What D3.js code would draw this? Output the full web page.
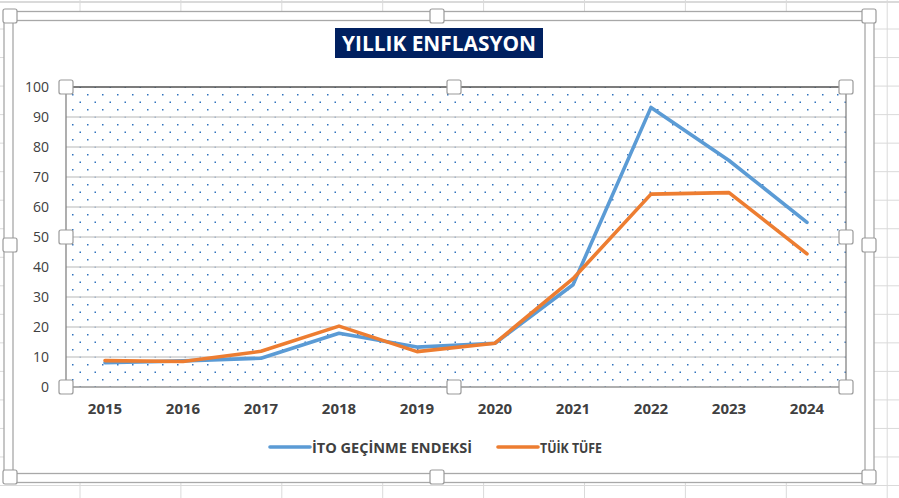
<!DOCTYPE html>
<html><head><meta charset="utf-8">
<script src="https://cdn.jsdelivr.net/npm/d3@7"></script>
<style>html,body{margin:0;padding:0;background:#fff;}svg{display:block;}</style>
</head><body>
<svg id="c" width="899" height="498"></svg>
<script>
const years = ["2015","2016","2017","2018","2019","2020","2021","2022","2023","2024"];
const itoValues = [8.1, 8.7, 9.6, 17.9, 13.3, 14.6, 34.1, 93.2, 75.5, 54.9];
const tuikValues = [8.8, 8.5, 11.9, 20.3, 11.8, 14.6, 36.1, 64.3, 64.8, 44.4];
const yTicks = [0,10,20,30,40,50,60,70,80,90,100];
const seriesNames = ["İTO GEÇİNME ENDEKSİ", "TÜİK TÜFE"];
const title = "YILLIK ENFLASYON";

const svg = d3.select("#c");
const W = 899, H = 498;
const colors = ["#5b9bd5", "#ed7d31"];
const font = "'Open Sans', sans-serif";

// Spreadsheet grid in background
const grid = svg.append("g").attr("stroke", "#dadada").attr("stroke-width", 1);
d3.range(0, 9).forEach(k => {
  const x = 80 + 100.9 * k;
  grid.append("line").attr("x1", x).attr("x2", x).attr("y1", 0).attr("y2", H);
});
d3.range(1, 18).forEach(k => {
  const y = 0.5 + 28.53 * k;
  grid.append("line").attr("x1", 0).attr("x2", W).attr("y1", y).attr("y2", y);
});
grid.append("line").attr("x1", 0).attr("x2", W).attr("y1", 2).attr("y2", 2).attr("stroke-width", 2);

// Chart area (white) and selection frame
const fx0 = 8.5, fx1 = 869.5, fy0 = 16, fy1 = 478;
svg.append("rect").attr("x", fx0 - 4.5).attr("y", fy0 - 4.5)
  .attr("width", fx1 - fx0 + 9).attr("height", fy1 - fy0 + 9).attr("fill", "#fff");
[-4.5, 4.5].forEach(o => {
  svg.append("rect").attr("x", fx0 + o).attr("y", fy0 + o)
    .attr("width", fx1 - fx0 - 2 * o).attr("height", fy1 - fy0 - 2 * o)
    .attr("fill", "none").attr("stroke", "#a8a8a8").attr("stroke-width", 1.3);
});

// Scales
const x = d3.scaleBand().domain(years).range([66, 846]);
const y = d3.scaleLinear().domain([0, 100]).range([387, 87]);
const cx = d => x(d) + x.bandwidth() / 2;

// Dot pattern
const defs = svg.append("defs");
const pat = defs.append("pattern").attr("id", "dots").attr("patternUnits", "userSpaceOnUse")
  .attr("x", 0).attr("y", 0).attr("width", 15).attr("height", 15);
pat.append("rect").attr("x", 12).attr("y", 4).attr("width", 1.5).attr("height", 1.5).attr("fill", "#2f72bd");
pat.append("rect").attr("x", 4.5).attr("y", 11.5).attr("width", 1.5).attr("height", 1.5).attr("fill", "#2f72bd");

svg.append("rect").attr("x", 66).attr("y", 87).attr("width", 780).attr("height", 300)
  .attr("fill", "url(#dots)");

// Gridlines
svg.append("g").selectAll("line").data(yTicks.filter(t => t > 0 && t < 100)).join("line")
  .attr("x1", 66).attr("x2", 846).attr("y1", d => y(d)).attr("y2", d => y(d))
  .attr("stroke", "#cfcfcf").attr("stroke-width", 1.6);

// Plot border
svg.append("rect").attr("x", 66).attr("y", 87).attr("width", 780).attr("height", 300)
  .attr("fill", "none").attr("stroke", "#7a7a7a").attr("stroke-width", 1.2);
svg.append("line").attr("x1", 66).attr("x2", 846).attr("y1", 87).attr("y2", 87)
  .attr("stroke", "#4a4a4a").attr("stroke-width", 1.2);

// Y axis
const yAxis = d3.axisLeft(y).tickValues(yTicks).tickSize(0).tickPadding(17);
const yg = svg.append("g").attr("transform", "translate(66,0)").call(yAxis);
yg.select(".domain").remove();
yg.selectAll("text").attr("font-family", font).attr("font-size", 14).attr("fill", "#404040").attr("dy", "0.35em");

// X axis
const xAxis = d3.axisBottom(x).tickSize(0).tickPadding(17);
const xg = svg.append("g").attr("transform", "translate(0,387)").call(xAxis);
xg.select(".domain").remove();
xg.selectAll("text").attr("font-family", font).attr("font-size", 15).attr("font-weight", "bold")
  .attr("fill", "#404040").attr("dy", "0.71em").attr("y", 16.5);

// Lines
const line = d3.line().x((d, i) => cx(years[i])).y(d => y(d));
[itoValues, tuikValues].forEach((vals, i) => {
  svg.append("path").datum(vals).attr("d", line).attr("fill", "none")
    .attr("stroke", colors[i]).attr("stroke-width", 3.6)
    .attr("stroke-linejoin", "round").attr("stroke-linecap", "round");
});

// Title
svg.append("rect").attr("x", 335).attr("y", 28).attr("width", 208).attr("height", 30).attr("fill", "#002060");
svg.append("text").attr("x", 439).attr("y", 51).attr("text-anchor", "middle")
  .attr("font-family", font).attr("font-weight", "bold").attr("font-size", 21)
  .attr("fill", "#fff").attr("textLength", 194).attr("lengthAdjust", "spacingAndGlyphs").text(title);

// Legend
const legend = [
  {x1: 270, x2: 310, tx: 312, tl: 160},
  {x1: 498, x2: 538, tx: 540, tl: 62}
];
legend.forEach((l, i) => {
  svg.append("line").attr("x1", l.x1).attr("x2", l.x2).attr("y1", 447).attr("y2", 447)
    .attr("stroke", colors[i]).attr("stroke-width", 3.6).attr("stroke-linecap", "round");
  svg.append("text").attr("x", l.tx).attr("y", 452.5).attr("font-family", font)
    .attr("font-weight", "bold").attr("font-size", 14.5).attr("fill", "#404040")
    .attr("textLength", l.tl).attr("lengthAdjust", "spacingAndGlyphs").text(seriesNames[i]);
});

// Selection handles
function handle(hx, hy) {
  svg.append("rect").attr("x", hx - 7).attr("y", hy - 7).attr("width", 14).attr("height", 14)
    .attr("rx", 2).attr("fill", "#fff").attr("stroke", "#9a9a9a").attr("stroke-width", 1.2);
}
[[10,16],[437,16],[869,16],[10,245],[869,245],[10,477],[437,477],[869,477]].forEach(p => handle(p[0], p[1]));
[[66,87],[454,87],[846,87],[66,237],[846,237],[66,387],[454,387],[846,387]].forEach(p => handle(p[0], p[1]));
</script>
</body></html>
